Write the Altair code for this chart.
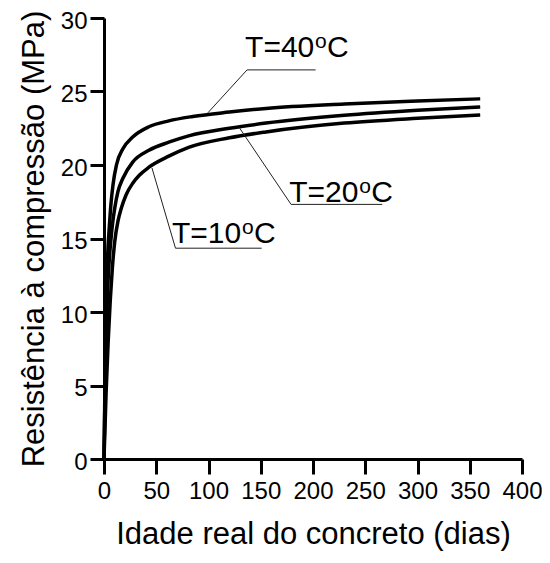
import altair as alt
import pandas as pd

# ---- data ----
age_40 = [0, 1, 2, 3, 4, 5, 6.6, 8.7, 11.9, 18.1, 27.5, 43, 62, 85, 120, 155, 230, 300, 360]
res_40 = [0, 5.5, 10, 12.8, 14.6, 15.7, 17.3, 18.7, 20.0, 21.1, 21.9, 22.6, 23.0, 23.3, 23.6, 23.85, 24.15, 24.35, 24.5]
age_20 = [0, 1, 2, 3.5, 5, 6.6, 8.1, 10.3, 13.4, 18.1, 27.5, 43, 62, 81, 120, 155, 230, 300, 360]
res_20 = [0, 4.5, 8, 11.5, 13.5, 14.9, 15.96, 17.07, 18.2, 19.1, 20.2, 21.0, 21.55, 21.98, 22.5, 22.85, 23.38, 23.72, 23.95]
age_10 = [0, 2, 4, 6, 8, 10.3, 13.4, 16.6, 21.2, 27.5, 33.8, 43, 62, 81, 120, 155, 230, 300, 360]
res_10 = [0, 4.5, 8, 10.8, 13, 14.8, 16.2, 17.07, 17.98, 18.76, 19.3, 19.85, 20.6, 21.2, 21.85, 22.25, 22.85, 23.18, 23.4]

series_names = ["T=40", "T=20", "T=10"]

# leader lines of the annotations (data units)
leader_x = [[99.4, 136.9, 202.5], [129.4, 179.0, 266.2], [45.9, 68.4, 150.9]]
leader_y = [[23.55, 26.47, 26.47], [22.55, 17.32, 17.32], [19.8, 14.34, 14.34]]
# label anchors (left / baseline)
label_x = [135.0, 177.2, 65.0]
label_y = [27.33, 17.46, 14.7]

x_ticks = [0, 50, 100, 150, 200, 250, 300, 350, 400]
y_ticks = [0, 2.5, 5, 7.5, 10, 12.5, 15, 17.5, 20, 22.5, 25, 27.5, 30]

# ---- tables ----
rows = []
for name, ages, vals in zip(series_names, [age_40, age_20, age_10], [res_40, res_20, res_10]):
    for i, (a, v) in enumerate(zip(ages, vals)):
        rows.append({"serie": name, "idade": a, "res": v, "ordem": i})
curves = pd.DataFrame(rows)

lrows = []
for name, xs, ys in zip(series_names, leader_x, leader_y):
    for i, (a, v) in enumerate(zip(xs, ys)):
        lrows.append({"serie": name, "idade": a, "res": v, "ordem": i})
leaders = pd.DataFrame(lrows)

labels = pd.DataFrame({"serie": series_names, "idade": label_x, "res": label_y})

xscale = alt.Scale(domain=[0, 400], nice=False, zero=False)
yscale = alt.Scale(domain=[0, 30], nice=False, zero=False)

x_axis = alt.Axis(
    values=x_ticks, title="Idade real do concreto (dias)", grid=False,
    domainColor="black", domainWidth=3, tickColor="black", tickWidth=3, tickSize=15,
    labelFont="Liberation Sans", labelFontSize=24, labelColor="black", labelPadding=5,
    labelFlush=False, labelOverlap=False,
    titleFont="Liberation Sans", titleFontSize=31, titleFontWeight="normal", titleColor="black",
    titlePadding=16,
)
y_axis = alt.Axis(
    values=y_ticks, title="Resistência à compressão (MPa)", grid=False,
    labelExpr="datum.value % 5 == 0 ? datum.label : ''",
    domainColor="black", domainWidth=3, tickColor="black", tickWidth=3,
    tickSize=alt.condition("datum.value % 5 == 0", alt.value(14), alt.value(7)),
    labelFont="Liberation Sans", labelFontSize=24, labelColor="black", labelPadding=3,
    labelOffset=3, labelFlush=False, labelOverlap=False,
    titleFont="Liberation Sans", titleFontSize=31, titleFontWeight="normal", titleColor="black",
    titlePadding=10,
)

lines = alt.Chart(curves).mark_line(color="black", strokeWidth=3.5, interpolate="monotone").encode(
    x=alt.X("idade:Q", scale=xscale, axis=x_axis),
    y=alt.Y("res:Q", scale=yscale, axis=y_axis),
    detail="serie:N",
    order="ordem:Q",
)

lead = alt.Chart(leaders).mark_line(color="#222222", strokeWidth=1).encode(
    x=alt.X("idade:Q", scale=xscale),
    y=alt.Y("res:Q", scale=yscale),
    detail="serie:N",
    order="ordem:Q",
)

txt_main = alt.Chart(labels).mark_text(
    align="left", baseline="alphabetic", font="Liberation Sans", fontSize=30, color="black"
).encode(x=alt.X("idade:Q", scale=xscale), y=alt.Y("res:Q", scale=yscale), text="serie:N")

txt_o = alt.Chart(labels).mark_text(
    align="left", baseline="alphabetic", font="Liberation Sans", fontSize=21, color="black",
    dx=70, dy=-9, text="o"
).encode(x=alt.X("idade:Q", scale=xscale), y=alt.Y("res:Q", scale=yscale))

txt_c = alt.Chart(labels).mark_text(
    align="left", baseline="alphabetic", font="Liberation Sans", fontSize=30, color="black",
    dx=82, text="C"
).encode(x=alt.X("idade:Q", scale=xscale), y=alt.Y("res:Q", scale=yscale))

chart = alt.layer(lines, lead, txt_main, txt_o, txt_c).properties(
    width=418, height=441,
    autosize=alt.AutoSizeParams(type="none"),
    padding={"left": 96, "top": 10, "right": 20, "bottom": 96},
).configure_view(stroke=None)

chart.save("out.html", embed_options={"renderer": "svg", "actions": False})
